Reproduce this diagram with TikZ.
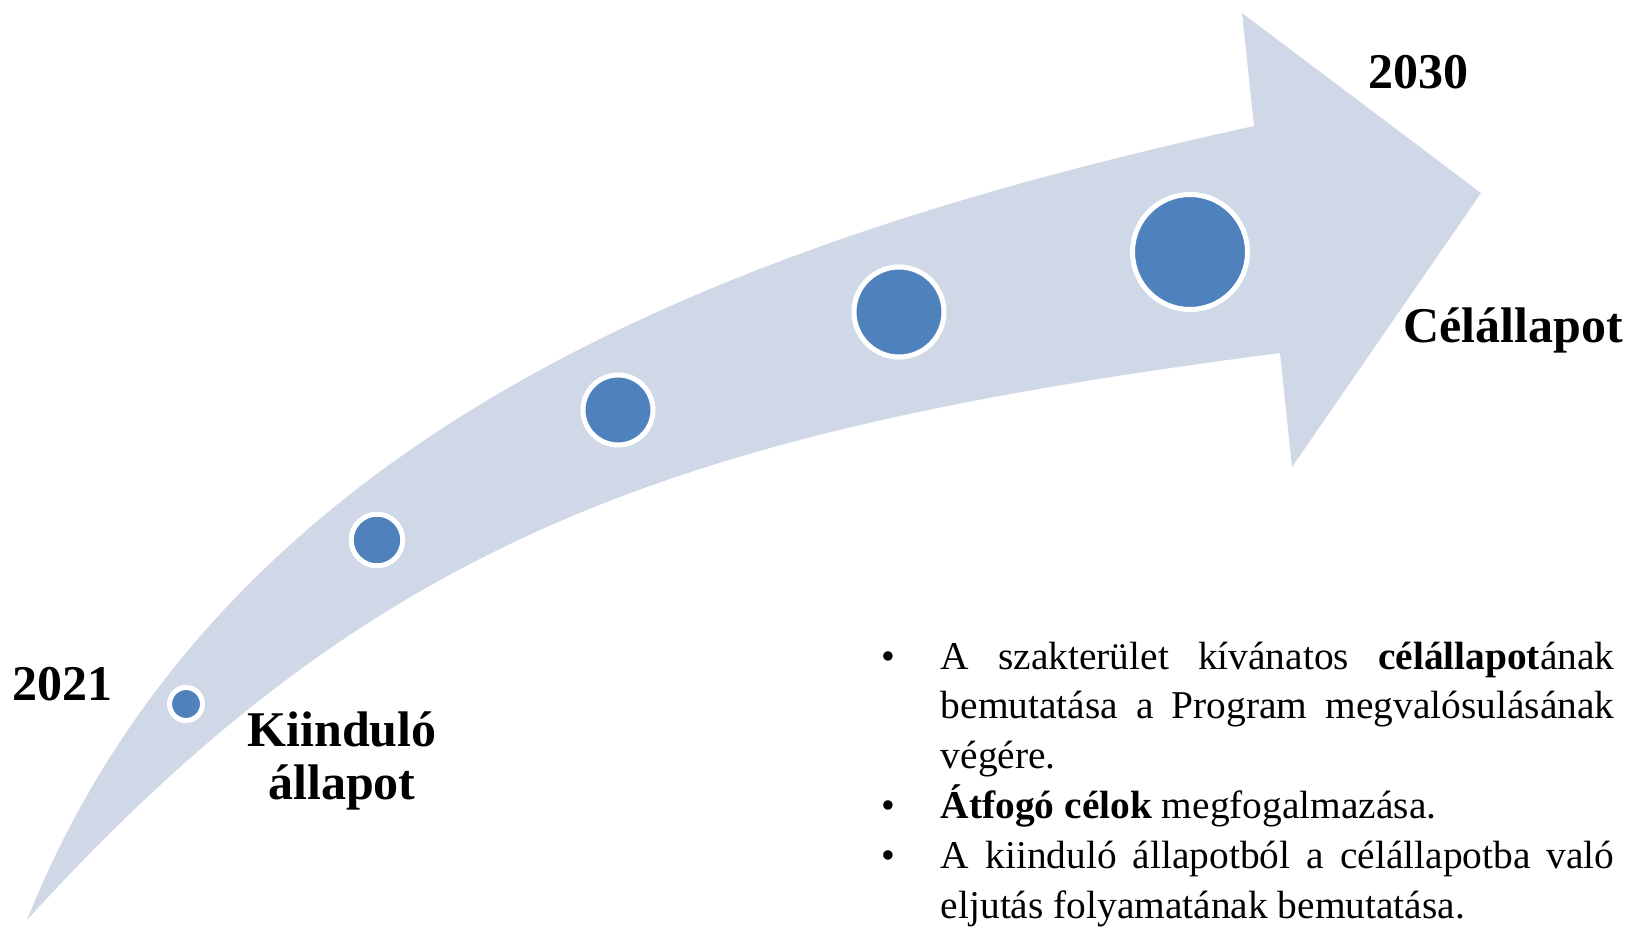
\documentclass[tikz,border=0pt]{standalone}
\usepackage{fontspec}
\setmainfont{Liberation Serif}
\definecolor{band}{HTML}{D0D8E8}
\definecolor{dotblue}{HTML}{4F81BD}
\newcommand\mybullet{\makebox[0pt][r]{\textbullet\hspace{22.75pt}}}
\tikzset{
  dotnode/.style={circle, fill=dotblue, draw=white, line width=2.5pt, inner sep=0pt},
  title/.style={font=\fontsize{25}{30}\selectfont\bfseries, inner sep=0pt, anchor=base},
}
\begin{document}
\begin{tikzpicture}[x=0.5pt, y=-0.5pt]
\useasboundingbox (0,0) rectangle (1635,931);
% curved arrow band
\fill[band] (27,920) .. controls (227,420) and (754,236) .. (1254,126)
  -- (1242,13) -- (1481,193) -- (1292,467) -- (1280,353)
  .. controls (680,431) and (377,535) .. (27,920) -- cycle;
% milestones
\node[dotnode, minimum size=16.5pt] (d1) at (186,704) {};
\node[dotnode, minimum size=25.8pt] (d2) at (377,540) {};
\node[dotnode, minimum size=35pt] (d3) at (618,410) {};
\node[dotnode, minimum size=45pt] (d4) at (899,312) {};
\node[dotnode, minimum size=57.5pt] (d5) at (1190,252) {};
% labels
\node[title] (y2021) at (62,700) {2021};
\node[title] (y2030) at (1418,89) {2030};
\node[title] (goal) at (1513,343) {Célállapot};
\node[title] (start1) at (342,746) {Kiinduló};
\node[title] (start2) at (342,799) {állapot};
% bullet list
\node[anchor=base west, inner sep=0pt, text width=336.75pt, align=justify,
      font=\fontsize{19.7}{24.9}\selectfont] (list) at (940.5,669) {%
\parindent=0pt\hyphenpenalty=10000\tolerance=10000
\mybullet A szakterület kívánatos \textbf{célállapot}ának bemutatása a Program megvalósulásának végére.\par
\mybullet\textbf{Átfogó célok} megfogalmazása.\par
\mybullet A kiinduló állapotból a célállapotba való eljutás folyamatának bemutatása.};
\end{tikzpicture}
\end{document}
